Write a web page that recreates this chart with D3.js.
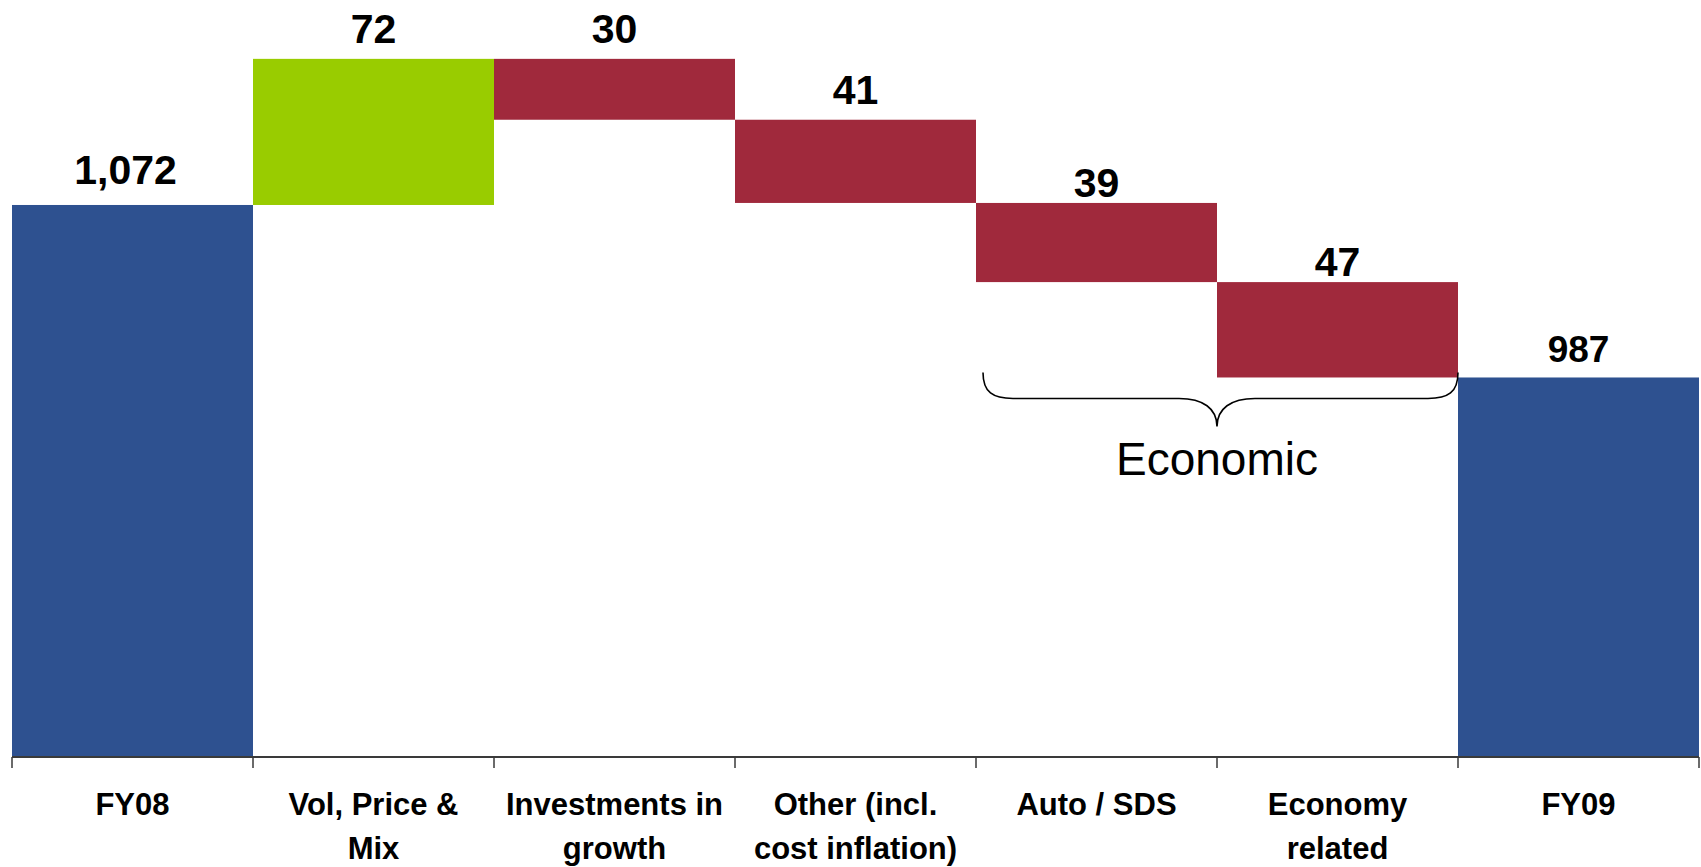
<!DOCTYPE html>
<html>
<head>
<meta charset="utf-8">
<script src="https://cdn.jsdelivr.net/npm/d3@7"></script>
<style>
  html, body { margin: 0; padding: 0; background: #ffffff; }
  svg { display: block; }
  text { font-family: "Liberation Sans", Arial, sans-serif; }
</style>
</head>
<body>
<svg id="chart" width="1701" height="867"></svg>
<script>
// Waterfall steps, FY08 to FY09
const categories = ["FY08", "Vol, Price & Mix", "Investments in growth", "Other (incl. cost inflation)", "Auto / SDS", "Economy related", "FY09"];
const categoryLines = [["FY08"], ["Vol, Price &", "Mix"], ["Investments in", "growth"], ["Other (incl.", "cost inflation)"], ["Auto / SDS"], ["Economy", "related"], ["FY09"]];
const values = [1072, 72, -30, -41, -39, -47, 987];
const kinds = ["total", "increase", "decrease", "decrease", "decrease", "decrease", "total"];
const economicGroup = ["Auto / SDS", "Economy related"];
const groupLabel = "Economic";
const axisFloor = 800;
const axisTop = 1173;

const colors = { total: "#2E5190", increase: "#99CC00", decrease: "#A0293C" };

const plot = { left: 12, right: 1699, top: 0, bottom: 757 };

const svg = d3.select("#chart");

// Build running start/end for each step
let running = 0;
const steps = categories.map((c, i) => {
  const v = values[i];
  let start, end;
  if (kinds[i] === "total") { start = axisFloor; end = v; running = v; }
  else { start = running; end = running + v; running = end; }
  return { i, category: c, lines: categoryLines[i], value: v, kind: kinds[i], lo: Math.min(start, end), hi: Math.max(start, end) };
});

const x = d3.scaleBand().domain(categories).range([plot.left, plot.right]).paddingInner(0).paddingOuter(0);
const y = d3.scaleLinear().domain([axisFloor, axisTop]).range([plot.bottom, plot.top]);

// Bars
svg.append("g").selectAll("rect")
  .data(steps)
  .join("rect")
  .attr("x", d => x(d.category))
  .attr("width", x.bandwidth())
  .attr("y", d => y(d.hi))
  .attr("height", d => y(d.lo) - y(d.hi))
  .attr("fill", d => colors[d.kind]);

// Value labels above each bar
const fmt = d3.format(",");
const last = categories.length - 1;
function labelGap(d) {
  if (economicGroup.includes(d.category)) return 6;
  if (d.i === 0) return 21;
  if (d.i === last) return 15;
  return 16;
}
svg.append("g").selectAll("text")
  .data(steps)
  .join("text")
  .attr("x", d => x(d.category) + x.bandwidth() / 2 - (d.i === 0 ? 7 : 0))
  .attr("y", d => y(d.hi) - labelGap(d))
  .attr("text-anchor", "middle")
  .attr("font-weight", "bold")
  .attr("font-size", d => d.i === last ? 37 : 41)
  .attr("fill", "#000")
  .text(d => fmt(Math.abs(d.value)));

// Category axis
const axis = svg.append("g").attr("transform", `translate(0,${plot.bottom})`);
axis.append("line")
  .attr("x1", plot.left).attr("x2", plot.right)
  .attr("y1", 0).attr("y2", 0)
  .attr("stroke", "#3a3a3a").attr("stroke-width", 2);
const boundaries = categories.map(c => x(c)).concat([x(categories[last]) + x.bandwidth()]);
axis.selectAll("line.tick")
  .data(boundaries)
  .join("line")
  .attr("class", "tick")
  .attr("x1", d => d).attr("x2", d => d)
  .attr("y1", 0).attr("y2", 11)
  .attr("stroke", "#3a3a3a").attr("stroke-width", 1.5);

const labels = svg.append("g").selectAll("text")
  .data(steps)
  .join("text")
  .attr("text-anchor", "middle")
  .attr("font-weight", "bold")
  .attr("font-size", 31)
  .attr("fill", "#000");
labels.selectAll("tspan")
  .data(d => d.lines.map((t, j) => ({ t, j, cx: x(d.category) + x.bandwidth() / 2 })))
  .join("tspan")
  .attr("x", d => d.cx)
  .attr("y", d => 815 + d.j * 44)
  .text(d => d.t);

// Curly brace grouping the economic steps
const gx0 = x(economicGroup[0]) + 7;
const gx1 = x(economicGroup[economicGroup.length - 1]) + x.bandwidth();
const tipX = (x(economicGroup[0]) + gx1) / 2;
const braceTop = y(values[last]) - 5;
const braceMid = braceTop + 26;
const braceTip = braceTop + 54;
const brace = d3.path();
brace.moveTo(gx0, braceTop);
brace.bezierCurveTo(gx0, braceTop + 20, gx0 + 10, braceMid, gx0 + 30, braceMid);
brace.lineTo(tipX - 38, braceMid);
brace.bezierCurveTo(tipX - 14, braceMid, tipX, braceMid + 10, tipX, braceTip);
brace.bezierCurveTo(tipX, braceMid + 10, tipX + 14, braceMid, tipX + 38, braceMid);
brace.lineTo(gx1 - 30, braceMid);
brace.bezierCurveTo(gx1 - 10, braceMid, gx1, braceTop + 20, gx1, braceTop);
svg.append("path")
  .attr("d", brace.toString())
  .attr("fill", "none")
  .attr("stroke", "#000")
  .attr("stroke-width", 1.6);

svg.append("text")
  .attr("x", tipX)
  .attr("y", 475)
  .attr("text-anchor", "middle")
  .attr("font-size", 46)
  .attr("fill", "#000")
  .text(groupLabel);
</script>
</body>
</html>
